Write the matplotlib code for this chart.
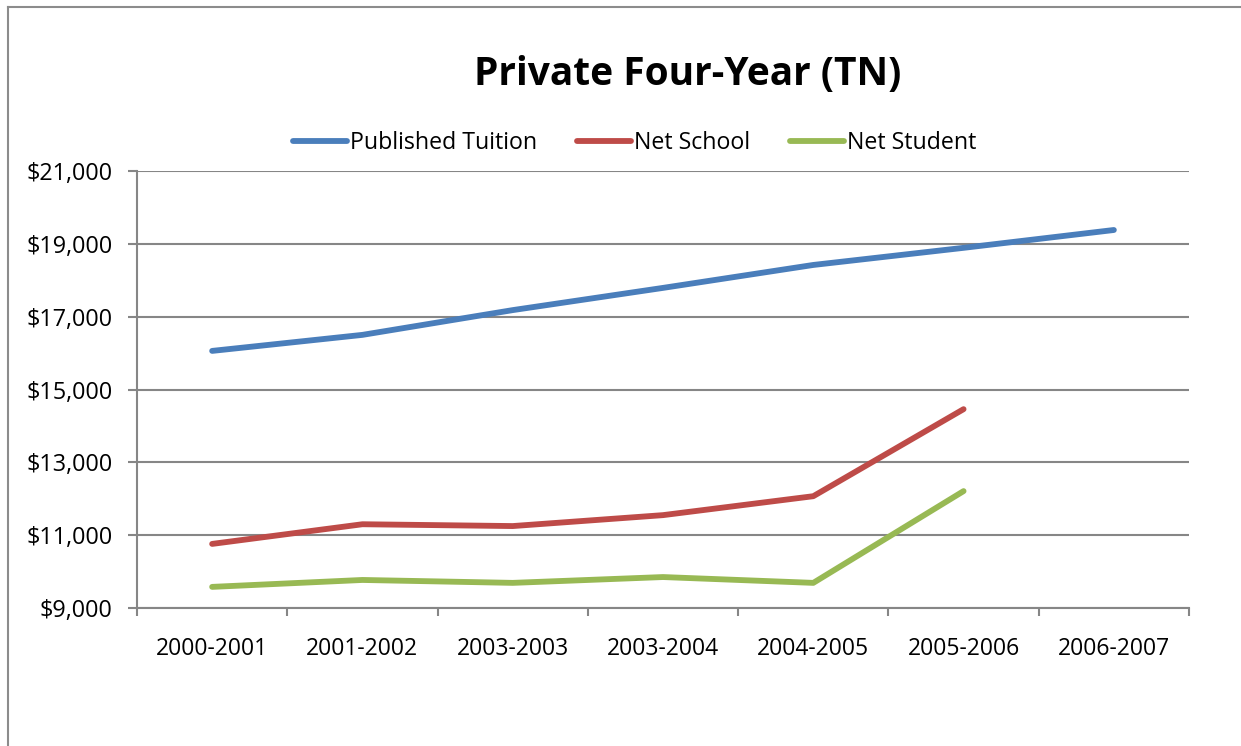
import matplotlib

matplotlib.use("Agg")
import matplotlib.pyplot as plt
from matplotlib.lines import Line2D

plt.rcParams["font.family"] = ["Open Sans", "DejaVu Sans"]

YEARS = ["2000-2001", "2001-2002", "2003-2003", "2003-2004", "2004-2005", "2005-2006", "2006-2007"]
PUBLISHED = [16060, 16500, 17180, 17790, 18420, 18890, 19380]
NET_SCHOOL = [10760, 11300, 11250, 11550, 12070, 14460]
NET_STUDENT = [9580, 9770, 9690, 9850, 9690, 12210]

BLUE = "#4A7EBB"
RED = "#BE4B48"
GREEN = "#98B954"
GRID = "#868686"

W, H = 1241, 746
fig = plt.figure(figsize=(W / 100, H / 100), dpi=100)
ax = fig.add_axes([137 / W, 1 - 608 / H, (1189 - 137) / W, (608 - 171) / H])

x = list(range(len(YEARS)))
ax.plot(x, PUBLISHED, color=BLUE, lw=4.2, solid_capstyle="round", label="Published Tuition")
ax.plot(x[:len(NET_SCHOOL)], NET_SCHOOL, color=RED, lw=4.2, solid_capstyle="round", label="Net School")
ax.plot(x[:len(NET_STUDENT)], NET_STUDENT, color=GREEN, lw=4.2, solid_capstyle="round", label="Net Student")

ax.set_xlim(-0.5, len(YEARS) - 0.5)
ax.set_ylim(9000, 21000)
ax.set_yticks(range(9000, 21001, 2000))
ax.set_yticklabels([f"${v:,}" for v in range(9000, 21001, 2000)], fontsize=16.8)
ax.set_xticks(x)
ax.set_xticklabels(YEARS, fontsize=16.5)
ax.set_xticks([i - 0.5 for i in range(len(YEARS) + 1)], minor=True)
ax.tick_params(axis="x", which="major", length=0, pad=21)
ax.tick_params(axis="x", which="minor", length=6, color=GRID, width=1.5)
ax.tick_params(axis="y", length=6.5, color=GRID, width=1.5, pad=11)
ax.grid(axis="y", color=GRID, lw=1.5)
ax.set_axisbelow(True)
for s in ("top", "right"):
    ax.spines[s].set_visible(False)
for s in ("left", "bottom"):
    ax.spines[s].set_color(GRID)
    ax.spines[s].set_linewidth(1.5)

fig.text(688 / W, 1 - 74 / H, "Private Four-Year (TN)", ha="center", va="center",
         fontsize=28, fontweight="bold")
fig.legend(loc="center", bbox_to_anchor=(635 / W, 1 - 143 / H), ncol=3, frameon=False,
           fontsize=16.7, handlelength=2.33, handletextpad=0.13, columnspacing=1.72)

# chart frame (top and left edges visible)
fig.add_artist(Line2D([8 / W, 1], [1 - 7 / H, 1 - 7 / H], color="#8C8C8C", lw=1.5))
fig.add_artist(Line2D([8 / W, 8 / W], [0, 1 - 7 / H], color="#8C8C8C", lw=1.5))

fig.savefig("out.png", dpi=100)
